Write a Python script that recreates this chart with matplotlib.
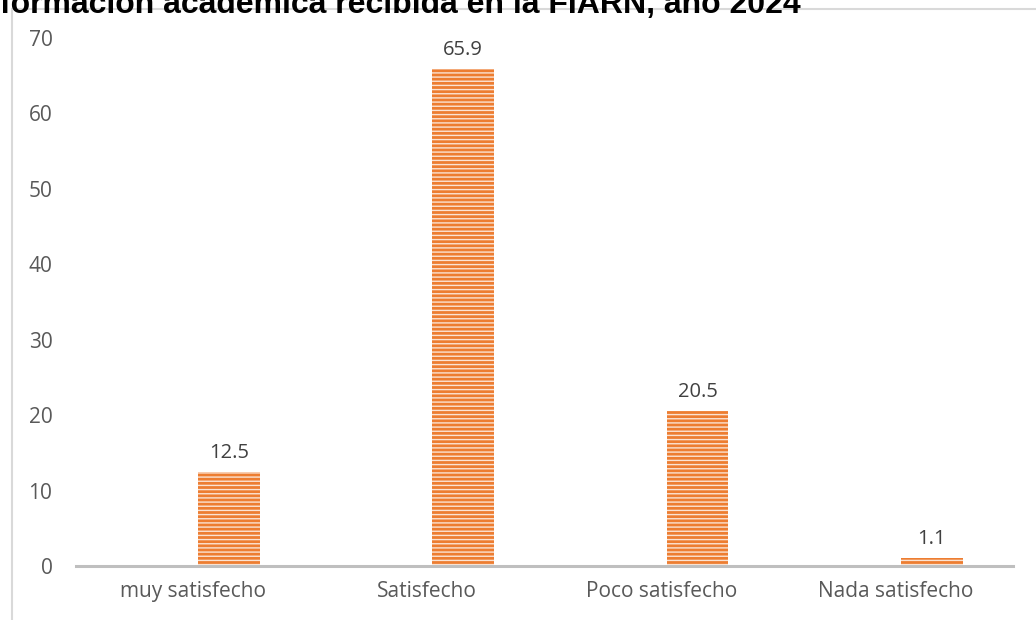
import numpy as np
import matplotlib.pyplot as plt
from matplotlib.patches import Rectangle

categories = ['muy satisfecho', 'Satisfecho', 'Poco satisfecho', 'Nada satisfecho']
values = [12.5, 65.9, 20.5, 1.1]
yticks = [0, 10, 20, 30, 40, 50, 60, 70]
title = 'formación académica recibida en la FIARN, año 2024'

plt.rcParams['font.family'] = ['Open Sans', 'DejaVu Sans']
plt.rcParams['hatch.linewidth'] = 1.0

fig = plt.figure(figsize=(10.36, 6.2), dpi=100)
ax = fig.add_axes([76 / 1036, 1 - 566 / 620, (1013 - 76) / 1036, (566 - 38) / 620])

x = np.arange(len(categories))
offset = 0.153
bars = ax.bar(x + offset, values, width=0.264, color='#ED7D31',
              edgecolor='#FBE3D3', linewidth=0, hatch='----', zorder=2)

for xi, v in zip(x, values):
    ax.text(xi + offset, v + 1.2, f'{v}', ha='center', va='bottom',
            fontsize=14.5, color='#404040')

ax.set_xlim(-0.5, 3.5)
ax.set_ylim(0, 70)
ax.set_yticks(yticks)
ax.set_xticks(x)
ax.set_xticklabels(categories)
ax.tick_params(axis='both', length=0, labelsize=15, colors='#595959')
ax.tick_params(axis='y', pad=17)
ax.tick_params(axis='x', pad=11)

for s in ['top', 'right', 'left']:
    ax.spines[s].set_visible(False)
ax.spines['bottom'].set_color('#BFBFBF')
ax.spines['bottom'].set_linewidth(2.2)

# chart area border (cut off at the right and bottom in the original)
fig.patches.append(Rectangle((12 / 1036, -0.1), 1.2, 1.1 - 9 / 620,
                             transform=fig.transFigure, fill=False,
                             edgecolor='#D9D9D9', linewidth=1.5))

# title, partially cropped at the top
fig.text(0.0, 1 - 13 / 620, title, ha='left', va='baseline',
         fontsize=23, fontweight='bold', family=['Liberation Sans', 'DejaVu Sans'])

fig.savefig('out.png', dpi=100)
